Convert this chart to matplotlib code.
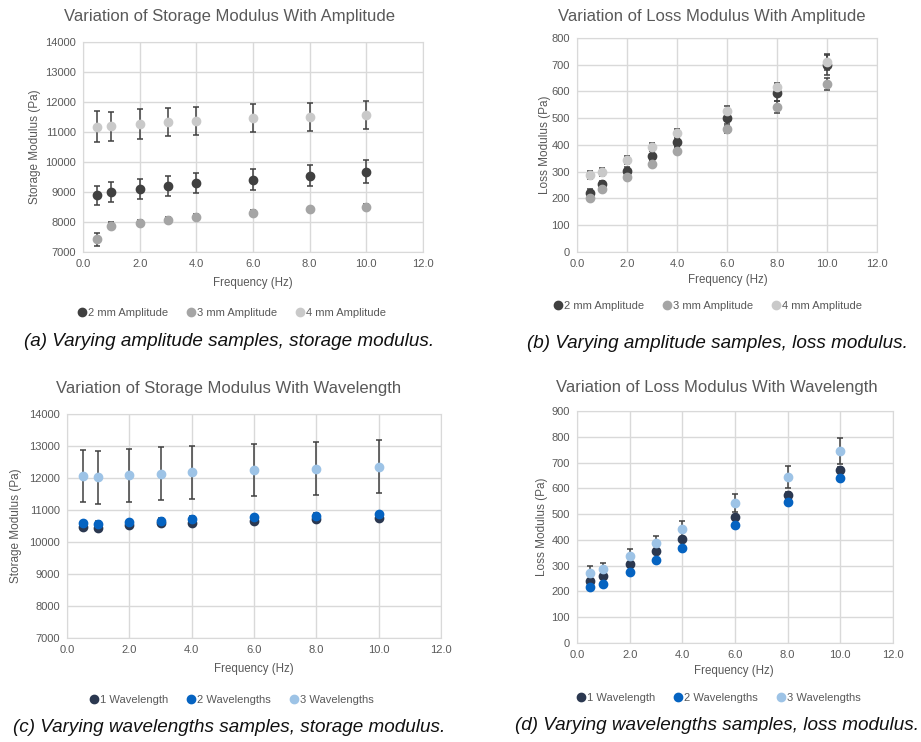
import matplotlib
matplotlib.use("Agg")
import matplotlib.pyplot as plt
from matplotlib.lines import Line2D

plt.rcParams['font.family'] = ['Liberation Sans', 'DejaVu Sans']

freq = [0.5, 1, 2, 3, 4, 6, 8, 10]

# (a) storage modulus, amplitude
amp_labels = ['2 mm Amplitude', '3 mm Amplitude', '4 mm Amplitude']
amp_colors = ['#404040', '#a5a5a5', '#c9c9c9']
sa_2mm = [8890, 8990, 9100, 9210, 9300, 9410, 9545, 9680]
sa_3mm = [7420, 7880, 7980, 8080, 8180, 8300, 8420, 8500]
sa_4mm = [11180, 11190, 11270, 11330, 11370, 11455, 11500, 11570]
sa_2mm_err = [315, 330, 330, 330, 345, 345, 360, 370]
sa_3mm_err = [220, 120, 100, 100, 100, 90, 90, 90]
sa_4mm_err = [510, 480, 490, 470, 470, 465, 465, 460]

# (b) loss modulus, amplitude
la_2mm = [222, 255, 304, 359, 412, 502, 596, 700]
la_3mm = [201, 237, 281, 328, 379, 458, 543, 629]
la_4mm = [288, 300, 343, 394, 443, 527, 615, 711]
la_2mm_err = [15, 12, 12, 18, 18, 22, 30, 38]
la_3mm_err = [12, 10, 8, 12, 12, 14, 22, 22]
la_4mm_err = [15, 15, 15, 15, 15, 18, 17, 30]

# (c) storage modulus, wavelength
wl_labels = ['1 Wavelength', '2 Wavelengths', '3 Wavelengths']
wl_colors = ['#2b3850', '#0563c1', '#9dc3e6']
sw_1 = [10459, 10440, 10520, 10584, 10605, 10657, 10720, 10762]
sw_2 = [10595, 10574, 10626, 10668, 10730, 10772, 10825, 10877]
sw_3 = [12068, 12016, 12080, 12140, 12183, 12245, 12290, 12350]
sw_1_err = [60, 60, 60, 60, 60, 60, 60, 60]
sw_2_err = [70, 70, 70, 70, 70, 70, 70, 70]
sw_3_err = [810, 820, 820, 830, 825, 810, 830, 825]

# (d) loss modulus, wavelength
lw_1 = [240, 259, 306, 356, 402, 488, 573, 670]
lw_2 = [217, 230, 275, 321, 370, 459, 546, 639]
lw_3 = [273, 288, 338, 389, 441, 543, 644, 746]
lw_1_err = [8, 8, 8, 8, 8, 10, 12, 12]
lw_2_err = [6, 6, 6, 6, 6, 8, 8, 8]
lw_3_err = [24, 24, 25, 27, 31, 36, 43, 50]

W, H = 921, 742
fig = plt.figure(figsize=(W / 100, H / 100), dpi=100)
fig.patch.set_facecolor('white')

TXT = '#595959'
GRID = '#d9d9d9'


def fx(px):
    return px / W


def fy(py):
    return 1 - py / H


def panel(box, series, errs, labels, colors, ylim, ystep, ylabel, title,
          caption, pos):
    l, t, r, b = box
    ax = fig.add_axes([fx(l), fy(b), fx(r - l), (b - t) / H])
    for ys, es, lab, c in zip(series, errs, labels, colors):
        ax.errorbar(freq, ys, yerr=es, fmt='o', color=c, ms=6,
                    ecolor='#404040', elinewidth=1.1, capsize=2.5,
                    capthick=1.1, label=lab, zorder=3)
    ax.set_xlim(0, 12)
    ax.set_ylim(*ylim)
    ax.set_xticks(range(0, 13, 2))
    ax.set_xticklabels(['%.1f' % v for v in range(0, 13, 2)])
    ax.set_yticks(range(ylim[0], ylim[1] + 1, ystep))
    ax.grid(True, color=GRID, lw=1.0)
    ax.set_axisbelow(True)
    for s in ax.spines.values():
        s.set_color(GRID)
    ax.tick_params(length=0, labelsize=8, labelcolor=TXT, pad=5)

    tx, ty, xlx, xly, ylx, yly, lgx, lgy, cpx, cpy = pos
    fig.text(fx(tx), fy(ty), title, ha='center', va='center',
             fontsize=12, color=TXT)
    fig.text(fx(xlx), fy(xly), 'Frequency (Hz)', ha='center', va='center',
             fontsize=8.3, color=TXT)
    fig.text(fx(ylx), fy(yly), ylabel, ha='center', va='center',
             fontsize=8.5, color=TXT, rotation=90)
    handles = [Line2D([], [], ls='none', marker='o', color=c, ms=6)
               for c in colors]
    fig.legend(handles, labels, loc='center', ncol=3,
               bbox_to_anchor=(fx(lgx), fy(lgy)), frameon=False,
               fontsize=8, handletextpad=0.0, columnspacing=1.6,
               handlelength=1.0, labelcolor=TXT)
    fig.text(fx(cpx), fy(cpy), caption, ha='center', va='center',
             fontsize=13.6, style='italic', color='#111111')
    return ax


panel((83, 42, 423, 252), [sa_2mm, sa_3mm, sa_4mm],
      [sa_2mm_err, sa_3mm_err, sa_4mm_err], amp_labels, amp_colors,
      (7000, 14000), 1000, 'Storage Modulus (Pa)',
      'Variation of Storage Modulus With Amplitude',
      '(a) Varying amplitude samples, storage modulus.',
      (229, 16, 253, 283, 35, 147, 231, 313, 229, 341))

panel((577, 38, 877, 252), [la_2mm, la_3mm, la_4mm],
      [la_2mm_err, la_3mm_err, la_4mm_err], amp_labels, amp_colors,
      (0, 800), 100, 'Loss Modulus (Pa)',
      'Variation of Loss Modulus With Amplitude',
      '(b) Varying amplitude samples, loss modulus.',
      (712, 16, 728, 280, 545, 145, 707, 306, 717, 344))

panel((67, 414, 441, 638), [sw_1, sw_2, sw_3],
      [sw_1_err, sw_2_err, sw_3_err], wl_labels, wl_colors,
      (7000, 14000), 1000, 'Storage Modulus (Pa)',
      'Variation of Storage Modulus With Wavelength',
      '(c) Varying wavelengths samples, storage modulus.',
      (229, 389, 254, 669, 16, 526, 231, 700, 229, 728))

panel((577, 411, 893, 643), [lw_1, lw_2, lw_3],
      [lw_1_err, lw_2_err, lw_3_err], wl_labels, wl_colors,
      (0, 900), 100, 'Loss Modulus (Pa)',
      'Variation of Loss Modulus With Wavelength',
      '(d) Varying wavelengths samples, loss modulus.',
      (717, 387, 734, 671, 542, 527, 718, 698, 717, 726))

fig.savefig('out.png', dpi=100)
